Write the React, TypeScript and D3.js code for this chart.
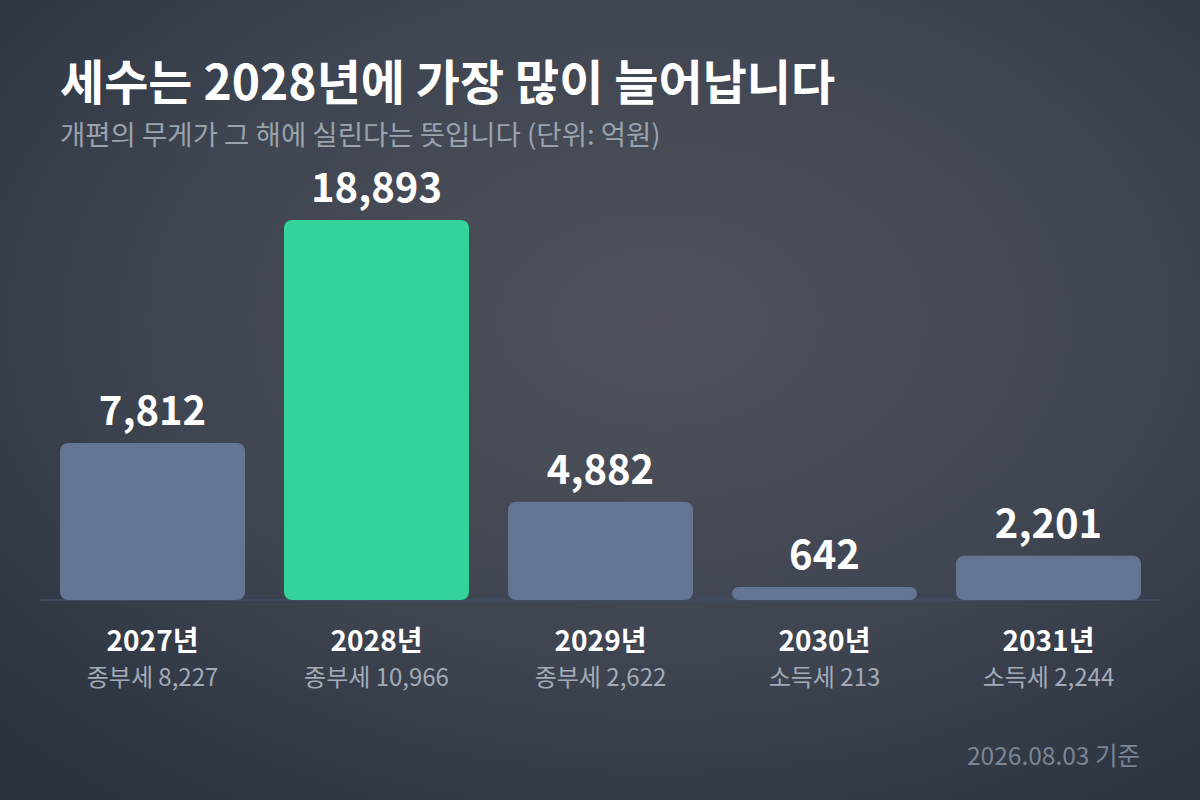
import React, { useEffect, useRef } from 'react';
import * as d3 from 'd3';

const years = ['2027년', '2028년', '2029년', '2030년', '2031년'];
const revenue = [7812, 18893, 4882, 642, 2201];
const breakdown = ['종부세 8,227', '종부세 10,966', '종부세 2,622', '소득세 213', '소득세 2,244'];
const highlightYear = '2028년';

const W = 1200;
const H = 800;
const FONT = '"Noto Sans CJK KR", "Noto Sans", sans-serif';

const App: React.FC = () => {
  const svgRef = useRef<SVGSVGElement>(null);

  useEffect(() => {
    if (!svgRef.current) return;
    const svg = d3.select(svgRef.current);
    svg.selectAll('*').remove();

    // background gradient
    const defs = svg.append('defs');
    const bg = defs.append('radialGradient')
      .attr('id', 'bg')
      .attr('cx', '0.55').attr('cy', '0.4').attr('r', '0.75');
    bg.append('stop').attr('offset', '0%').attr('stop-color', '#4f525c');
    bg.append('stop').attr('offset', '55%').attr('stop-color', '#3f4551');
    bg.append('stop').attr('offset', '100%').attr('stop-color', '#2b3340');

    svg.append('rect').attr('width', W).attr('height', H).attr('fill', 'url(#bg)');

    const baseline = 600;
    const x = d3.scaleBand<string>()
      .domain(years)
      .range([60, 1141])
      .paddingInner(0.174)
      .paddingOuter(0);
    const y = d3.scaleLinear()
      .domain([0, d3.max(revenue) as number])
      .range([baseline, 220]);

    // baseline
    svg.append('line')
      .attr('x1', 40).attr('x2', 1160)
      .attr('y1', baseline).attr('y2', baseline)
      .attr('stroke', '#3e4b60')
      .attr('stroke-width', 2);

    const g = svg.append('g');
    const bars = g.selectAll('g.bar')
      .data(years)
      .enter()
      .append('g')
      .attr('class', 'bar');

    const cx = (d: string) => (x(d) as number) + x.bandwidth() / 2;

    bars.append('rect')
      .attr('x', d => x(d) as number)
      .attr('y', (d, i) => y(revenue[i]))
      .attr('width', x.bandwidth())
      .attr('height', (d, i) => baseline - y(revenue[i]))
      .attr('rx', (d, i) => Math.min(8, (baseline - y(revenue[i])) / 2))
      .attr('fill', d => (d === highlightYear ? '#34d399' : '#637592'));

    bars.append('text')
      .attr('x', cx)
      .attr('y', (d, i) => y(revenue[i]) - 18)
      .attr('text-anchor', 'middle')
      .style('font-family', FONT)
      .style('font-weight', 700)
      .style('font-size', '40px')
      .style('fill', '#ffffff')
      .text((d, i) => d3.format(',')(revenue[i]));

    bars.append('text')
      .attr('x', cx)
      .attr('y', 651)
      .attr('text-anchor', 'middle')
      .style('font-family', FONT)
      .style('font-weight', 700)
      .style('font-size', '28px')
      .style('fill', '#ffffff')
      .text(d => d);

    bars.append('text')
      .attr('x', cx)
      .attr('y', 686)
      .attr('text-anchor', 'middle')
      .style('font-family', FONT)
      .style('font-size', '24px')
      .style('fill', '#a3abb9')
      .text((d, i) => breakdown[i]);

    // title & subtitle
    svg.append('text')
      .attr('x', 60).attr('y', 100)
      .style('font-family', FONT)
      .style('font-weight', 700)
      .style('font-size', '48px')
      .style('fill', '#ffffff')
      .text('세수는 2028년에 가장 많이 늘어납니다');

    svg.append('text')
      .attr('x', 60).attr('y', 145)
      .style('font-family', FONT)
      .style('font-size', '27.5px')
      .style('fill', '#9aa2ae')
      .text('개편의 무게가 그 해에 실린다는 뜻입니다 (단위: 억원)');

    svg.append('text')
      .attr('x', 1140).attr('y', 765)
      .attr('text-anchor', 'end')
      .style('font-family', FONT)
      .style('font-size', '24.5px')
      .style('fill', '#7c8594')
      .text('2026.08.03 기준');
  }, []);

  return (
    <svg
      ref={svgRef}
      width={W}
      height={H}
      style={{ position: 'absolute', left: 0, top: 0, display: 'block' }}
    />
  );
};

export default App;
